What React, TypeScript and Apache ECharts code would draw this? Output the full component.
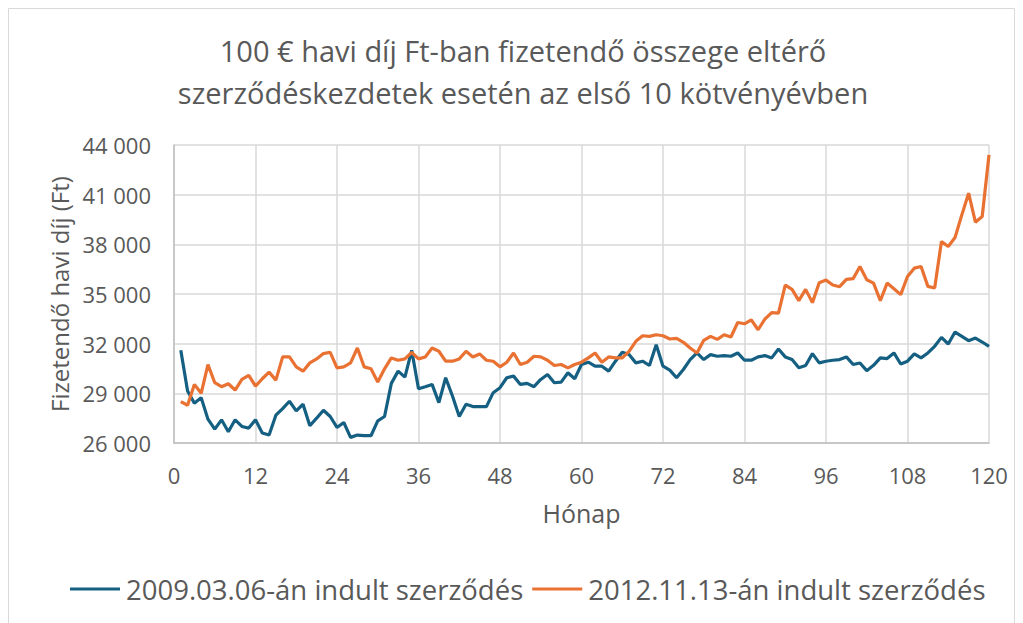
import React, { useEffect, useRef } from "react";
import * as echarts from "echarts";

const titleText = "100 € havi díj Ft-ban fizetendő összege eltérő\nszerződéskezdetek esetén az első 10 kötvényévben";
const yAxisName = "Fizetendő havi díj (Ft)";
const xAxisName = "Hónap";
const seriesNames = ["2009.03.06-án indult szerződés", "2012.11.13-án indult szerződés"];

const blueValues = [
  31600, 29140, 28400, 28740, 27440, 26840, 27400, 26680, 27400, 27000,
  26900, 27400, 26600, 26480, 27680, 28080, 28520, 27940, 28340, 27040,
  27500, 27980, 27600, 26940, 27240, 26340, 26480, 26440, 26440, 27340,
  27600, 29600, 30340, 29980, 31600, 29280, 29400, 29540, 28440, 29940,
  28840, 27600, 28340, 28200, 28200, 28200, 29040, 29340, 29940, 30040,
  29540, 29600, 29400, 29840, 30140, 29640, 29680, 30240, 29880, 30740,
  30880, 30640, 30640, 30340, 30940, 31480, 31340, 30840, 30940, 30680,
  31940, 30640, 30400, 29940, 30440, 31040, 31440, 31040, 31340, 31240,
  31280, 31240, 31440, 31000, 31000, 31200, 31280, 31140, 31680, 31200,
  31040, 30540, 30680, 31400, 30840, 30940, 31000, 31040, 31200, 30740,
  30830, 30370, 30690, 31140, 31100, 31440, 30770, 30940, 31380, 31140,
  31440, 31840, 32380, 31980, 32700, 32440, 32180, 32340, 32100, 31840,
];

const orangeValues = [
  28500, 28280, 29540, 29000, 30740, 29640, 29400, 29580, 29200, 29840,
  30080, 29440, 29880, 30280, 29800, 31200, 31200, 30600, 30340, 30840,
  31080, 31400, 31480, 30540, 30600, 30840, 31740, 30600, 30480, 29680,
  30480, 31140, 31000, 31080, 31480, 31080, 31200, 31740, 31540, 30950,
  30940, 31080, 31540, 31200, 31380, 31000, 30940, 30600, 30880, 31440,
  30740, 30880, 31240, 31200, 31000, 30680, 30740, 30540, 30740, 30880,
  31140, 31440, 30880, 31200, 31140, 31140, 31540, 32140, 32480, 32440,
  32540, 32480, 32280, 32320, 32080, 31740, 31440, 32200, 32440, 32260,
  32540, 32400, 33280, 33200, 33440, 32840, 33480, 33880, 33840, 35540,
  35280, 34600, 35280, 34480, 35680, 35840, 35540, 35440, 35880, 35930,
  36660, 35860, 35660, 34590, 35660, 35320, 34960, 36060, 36560, 36660,
  35460, 35360, 38170, 37870, 38410, 39780, 41090, 39340, 39680, 43400,
];

const textColor = "#595959";
const fontFamily = "'Open Sans', 'Noto Sans', sans-serif";

function toPairs(values: number[]) {
  return values.map((v, i) => [i + 1, v]);
}

function fmt(v: number) {
  const s = String(Math.round(v));
  return s.length > 3 ? s.slice(0, s.length - 3) + " " + s.slice(s.length - 3) : s;
}

export default function App() {
  const ref = useRef<HTMLDivElement>(null);
  useEffect(() => {
    if (!ref.current) return;
    const chart = echarts.init(ref.current, undefined, { renderer: "svg" });
    chart.setOption({
      animation: false,
      backgroundColor: "#ffffff",
      textStyle: { fontFamily },
      graphic: [
        {
          type: "rect",
          shape: { x: 8.5, y: 8.5, width: 1006, height: 640 },
          style: { fill: "none", stroke: "#d9d9d9", lineWidth: 1 },
          silent: true,
        },
        {
          type: "text",
          x: 523,
          y: 29,
          silent: true,
          style: {
            text: titleText,
            textAlign: "center",
            textVerticalAlign: "top",
            fill: textColor,
            fontSize: 29,
            fontFamily,
            lineHeight: 42,
          },
        },
      ],
      legend: {
        top: 570,
        left: 65,
        icon: "rect",
        itemWidth: 50,
        itemHeight: 3,
        itemGap: 9,
        textStyle: { color: textColor, fontSize: 27.5, fontFamily, padding: [0, 0, 0, 1] },
        data: seriesNames,
      },
      grid: { left: 174, right: 34, top: 145, bottom: 180, containLabel: false },
      xAxis: {
        type: "value",
        min: 0,
        max: 120,
        interval: 12,
        name: xAxisName,
        nameLocation: "middle",
        nameGap: 57,
        nameTextStyle: { color: textColor, fontSize: 25, fontFamily },
        axisLine: { show: true, lineStyle: { color: "#bfbfbf", width: 1.5 } },
        axisTick: { show: false },
        axisLabel: { color: textColor, fontSize: 22, margin: 21, fontFamily },
        splitLine: { show: true, lineStyle: { color: "#d9d9d9", width: 1.5 } },
      },
      yAxis: {
        type: "value",
        min: 26000,
        max: 44000,
        interval: 3000,
        name: yAxisName,
        nameLocation: "middle",
        nameGap: 100,
        nameTextStyle: { color: textColor, fontSize: 24, fontFamily },
        axisLine: { show: true, lineStyle: { color: "#bfbfbf", width: 1.5 } },
        axisTick: { show: false },
        axisLabel: { color: textColor, fontSize: 22, margin: 23, fontFamily, formatter: fmt },
        splitLine: { show: true, lineStyle: { color: "#d9d9d9", width: 1.5 } },
      },
      series: [
        {
          name: seriesNames[0],
          type: "line",
          data: toPairs(blueValues),
          showSymbol: false,
          symbol: "none",
          lineStyle: { color: "#156082", width: 3.2 },
          itemStyle: { color: "#156082" },
        },
        {
          name: seriesNames[1],
          type: "line",
          data: toPairs(orangeValues),
          showSymbol: false,
          symbol: "none",
          lineStyle: { color: "#E97132", width: 3.2 },
          itemStyle: { color: "#E97132" },
        },
      ],
    });
    return () => chart.dispose();
  }, []);
  return (
    <div
      ref={ref}
      style={{ position: "absolute", left: 0, top: 0, width: 1023, height: 623 }}
    />
  );
}
